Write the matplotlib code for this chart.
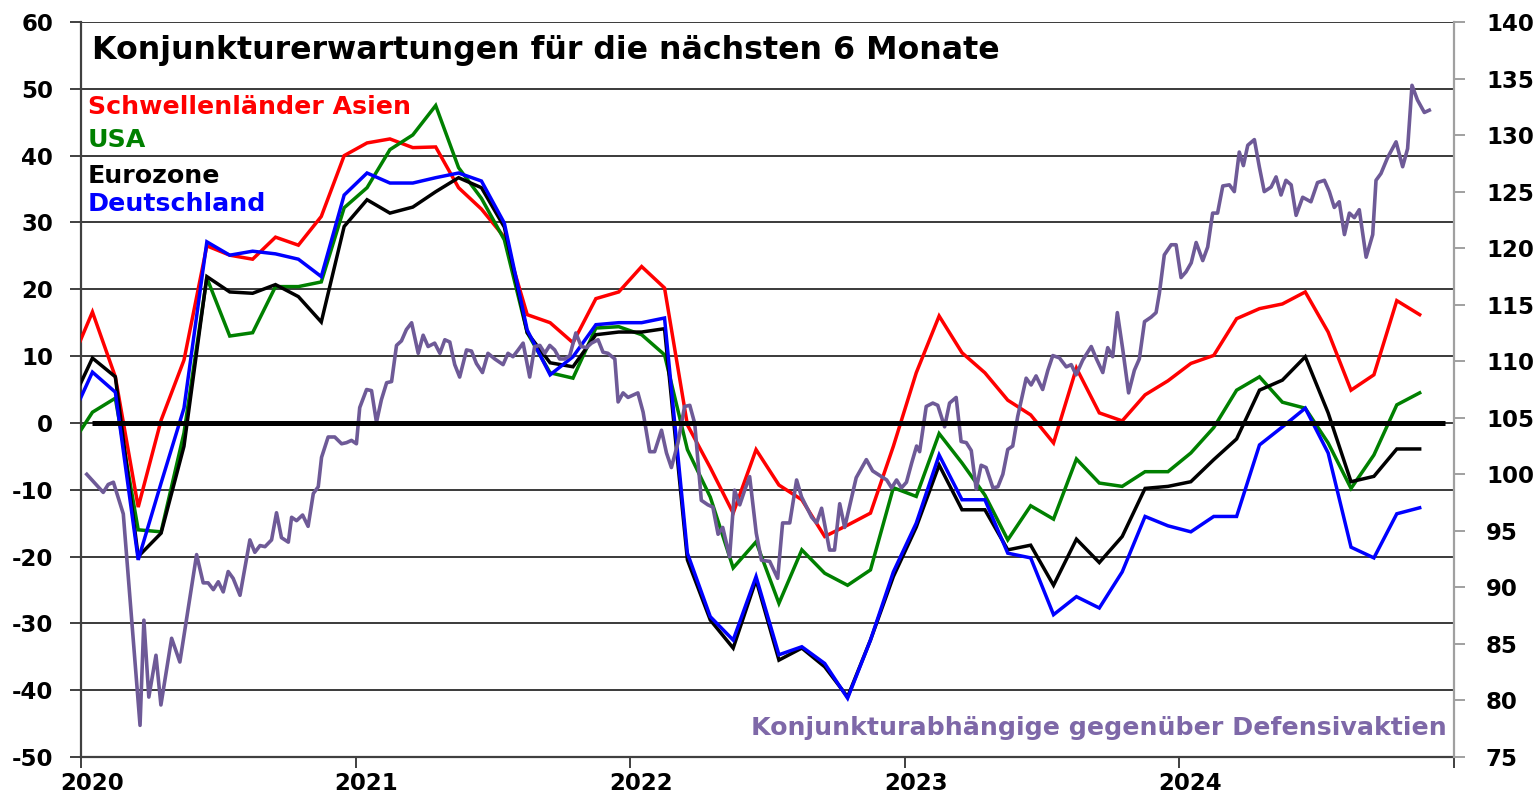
import numpy as np
import matplotlib
matplotlib.use("Agg")
import matplotlib.pyplot as plt

plt.rcParams['font.family'] = ['DejaVu Sans']
plt.rcParams['font.weight'] = 'bold'
plt.rcParams['axes.unicode_minus'] = False

# ---------------- data ----------------
# monthly observations, Dec 2019 .. Nov 2024 (plotted at mid-month)
month_years = [2019] + [2020] * 12 + [2021] * 12 + [2022] * 12 + [2023] * 12 + [2024] * 11
month_nums = [12] + list(range(1, 13)) * 4 + list(range(1, 12))

asien = [8.5,
         16.6, 6.9, -12.6, 0.4, 9.4, 26.5, 25.1, 24.5, 27.8, 26.6, 30.9, 40.0,
         41.9, 42.5, 41.2, 41.3, 35.2, 32.0, 27.8, 16.2, 15.0, 12.0, 18.6, 19.6,
         23.4, 20.2, -0.3, -6.7, -13.5, -4.0, -9.3, -11.5, -17.0, -15.3, -13.5, -3.5,
         7.5, 16.0, 10.5, 7.5, 3.4, 1.2, -3.0, 8.2, 1.5, 0.3, 4.2, 6.3,
         8.9, 10.1, 15.6, 17.1, 17.8, 19.6, 13.6, 4.9, 7.2, 18.3, 16.2]
usa = [-3.7,
       1.6, 3.7, -16.0, -16.3, -1.5, 21.7, 13.0, 13.5, 20.4, 20.4, 21.1, 32.2,
       35.2, 40.9, 43.1, 47.5, 38.2, 33.6, 27.4, 13.5, 7.5, 6.7, 14.2, 14.4,
       13.2, 10.2, -4.0, -11.1, -21.7, -17.8, -27.0, -19.0, -22.5, -24.3, -22.0, -9.7,
       -11.0, -1.6, -6.0, -10.8, -17.5, -12.4, -14.4, -5.4, -9.0, -9.5, -7.3, -7.3,
       -4.5, -0.7, 4.9, 6.9, 3.1, 2.2, -3.0, -9.8, -4.8, 2.7, 4.5]
eurozone = [2.4,
            9.7, 6.9, -20.0, -16.5, -3.5, 21.9, 19.6, 19.4, 20.7, 18.9, 15.1, 29.4,
            33.4, 31.4, 32.3, 34.6, 36.7, 35.2, 29.3, 13.5, 9.0, 8.4, 13.2, 13.6,
            13.6, 14.1, -20.5, -29.5, -33.7, -23.5, -35.5, -33.7, -36.5, -41.0, -32.5, -23.0,
            -15.6, -6.3, -13.0, -13.0, -19.0, -18.3, -24.3, -17.4, -20.9, -17.0, -9.8, -9.5,
            -8.8, -5.5, -2.4, 4.9, 6.4, 9.9, 1.5, -8.8, -8.0, -3.9, -3.9]
deutschland = [0.1,
               7.6, 4.6, -20.5, -9.0, 2.2, 27.1, 25.1, 25.7, 25.3, 24.5, 21.9, 34.1,
               37.4, 35.9, 35.9, 36.7, 37.4, 36.2, 29.9, 13.9, 7.2, 9.9, 14.7, 15.0,
               15.0, 15.7, -19.5, -29.0, -32.5, -23.0, -34.7, -33.5, -36.0, -41.2, -32.5, -22.3,
               -15.0, -4.8, -11.5, -11.5, -19.5, -20.2, -28.7, -26.0, -27.7, -22.3, -14.0, -15.4,
               -16.3, -14.0, -14.0, -3.3, -0.6, 2.2, -4.5, -18.6, -20.2, -13.6, -12.7]

# cyclicals vs defensives index (right axis), read at dates in decimal years
rel_t = [2020.021, 2020.081, 2020.099, 2020.118, 2020.154, 2020.215, 2020.229, 2020.247,
         2020.273, 2020.291, 2020.330, 2020.360, 2020.421, 2020.445, 2020.463, 2020.482,
         2020.500, 2020.518, 2020.536, 2020.554, 2020.579, 2020.615, 2020.633, 2020.652,
         2020.670, 2020.694, 2020.712, 2020.730, 2020.755, 2020.767, 2020.785, 2020.807,
         2020.827, 2020.846, 2020.864, 2020.876, 2020.900, 2020.924, 2020.949, 2020.967,
         2020.985, 2021.003, 2021.015, 2021.040, 2021.058, 2021.076, 2021.094, 2021.113,
         2021.131, 2021.149, 2021.167, 2021.185, 2021.204, 2021.228, 2021.246, 2021.264,
         2021.288, 2021.307, 2021.325, 2021.343, 2021.361, 2021.379, 2021.404, 2021.422,
         2021.440, 2021.462, 2021.482, 2021.507, 2021.537, 2021.555, 2021.573, 2021.592,
         2021.610, 2021.634, 2021.652, 2021.671, 2021.689, 2021.707, 2021.725, 2021.743,
         2021.762, 2021.780, 2021.802, 2021.822, 2021.841, 2021.859, 2021.883, 2021.901,
         2021.919, 2021.944, 2021.956, 2021.974, 2021.992, 2022.010, 2022.028, 2022.047,
         2022.071, 2022.089, 2022.114, 2022.132, 2022.150, 2022.174, 2022.198, 2022.217,
         2022.235, 2022.259, 2022.283, 2022.301, 2022.320, 2022.337, 2022.362, 2022.380,
         2022.399, 2022.417, 2022.435, 2022.459, 2022.478, 2022.508, 2022.537, 2022.555,
         2022.581, 2022.606, 2022.624, 2022.661, 2022.679, 2022.697, 2022.726, 2022.744,
         2022.763, 2022.781, 2022.823, 2022.860, 2022.883, 2022.915, 2022.934, 2022.952,
         2022.970, 2022.988, 2023.006, 2023.025, 2023.043, 2023.054, 2023.078, 2023.102,
         2023.120, 2023.145, 2023.163, 2023.187, 2023.205, 2023.224, 2023.242, 2023.260,
         2023.278, 2023.296, 2023.321, 2023.339, 2023.357, 2023.375, 2023.393, 2023.411,
         2023.442, 2023.460, 2023.478, 2023.502, 2023.521, 2023.539, 2023.563, 2023.588,
         2023.606, 2023.624, 2023.648, 2023.679, 2023.698, 2023.721, 2023.739, 2023.757,
         2023.774, 2023.794, 2023.815, 2023.836, 2023.854, 2023.873, 2023.897, 2023.915,
         2023.927, 2023.945, 2023.970, 2023.988, 2024.006, 2024.024, 2024.043, 2024.061,
         2024.085, 2024.103, 2024.121, 2024.139, 2024.158, 2024.182, 2024.200, 2024.218,
         2024.233, 2024.249, 2024.273, 2024.291, 2024.309, 2024.334, 2024.352, 2024.370,
         2024.388, 2024.407, 2024.425, 2024.449, 2024.479, 2024.503, 2024.528, 2024.546,
         2024.564, 2024.582, 2024.601, 2024.619, 2024.637, 2024.655, 2024.680, 2024.704,
         2024.716, 2024.734, 2024.758, 2024.789, 2024.813, 2024.831, 2024.847, 2024.867,
         2024.892, 2024.910]
rel_v = [100.0, 98.4, 99.1, 99.3, 96.5, 77.8, 87.1, 80.3,
         84.0, 79.6, 85.5, 83.4, 92.9, 90.4, 90.4, 89.8,
         90.5, 89.6, 91.4, 90.8, 89.3, 94.2, 93.1, 93.7,
         93.6, 94.2, 96.6, 94.4, 94.0, 96.2, 95.9, 96.4,
         95.4, 98.3, 98.9, 101.5, 103.3, 103.3, 102.7, 102.8,
         103.0, 102.7, 105.9, 107.5, 107.4, 104.6, 106.6, 108.1,
         108.2, 111.4, 111.8, 112.8, 113.4, 110.7, 112.3, 111.3,
         111.6, 110.7, 111.9, 111.7, 109.7, 108.6, 111.0, 110.9,
         109.8, 109.0, 110.7, 110.2, 109.7, 110.7, 110.4, 111.0,
         111.6, 108.6, 111.3, 111.4, 110.7, 111.4, 111.0, 110.2,
         110.2, 110.5, 112.5, 111.3, 111.2, 111.6, 111.9, 110.8,
         110.7, 110.2, 106.4, 107.2, 106.8, 107.0, 107.2, 105.5,
         102.0, 102.0, 103.9, 101.9, 100.6, 102.8, 106.0, 106.1,
         104.5, 97.7, 97.3, 97.1, 94.7, 95.3, 92.7, 98.6,
         97.3, 98.6, 99.8, 94.8, 92.4, 92.3, 90.8, 95.7,
         95.7, 99.5, 98.0, 96.2, 95.7, 97.0, 93.3, 93.3,
         97.4, 95.3, 99.7, 101.3, 100.3, 99.8, 99.5, 98.8,
         99.5, 98.8, 99.3, 101.0, 102.5, 102.0, 106.0, 106.3,
         106.1, 104.2, 106.3, 106.8, 102.9, 102.8, 102.1, 98.7,
         100.8, 100.6, 98.8, 98.9, 100.0, 102.2, 102.5, 105.1,
         108.5, 107.9, 108.7, 107.5, 109.2, 110.5, 110.3, 109.5,
         109.7, 108.8, 110.1, 111.3, 110.2, 109.0, 111.2, 110.4,
         114.3, 111.0, 107.2, 109.2, 110.2, 113.5, 113.9, 114.3,
         116.0, 119.4, 120.3, 120.3, 117.4, 117.9, 118.7, 120.5,
         118.9, 120.1, 123.1, 123.1, 125.5, 125.6, 125.0, 128.5,
         127.3, 129.1, 129.6, 127.2, 125.0, 125.4, 126.3, 124.7,
         126.0, 125.6, 122.9, 124.5, 124.1, 125.8, 126.0, 125.0,
         123.6, 124.1, 121.2, 123.1, 122.7, 123.4, 119.2, 121.2,
         126.0, 126.6, 128.0, 129.4, 127.2, 128.8, 134.4, 133.1,
         132.0, 132.2]

left_ticks = list(range(-50, 61, 10))
right_ticks = list(range(75, 141, 5))
year_ticks = [2020, 2021, 2022, 2023, 2024]

# ---------------- plot ----------------
t_month = np.array(month_years) + (np.array(month_nums) - 0.5) / 12.0

fig = plt.figure(figsize=(15.36, 8.02), dpi=100)
ax = fig.add_axes([81 / 1536, 1 - 757 / 802, (1454 - 81) / 1536, (757 - 22) / 802])
ax2 = ax.twinx()

lw = 2.5
ax.plot(t_month, asien, color='#FF0000', lw=lw, solid_joinstyle='miter', zorder=3)
ax.plot(t_month, usa, color='#008000', lw=lw, solid_joinstyle='miter', zorder=3)
ax.plot(t_month, eurozone, color='#000000', lw=lw, solid_joinstyle='miter', zorder=3)
ax.plot(t_month, deutschland, color='#0000FF', lw=lw, solid_joinstyle='miter', zorder=3)

ax2.plot(rel_t, rel_v, color='#6E5A97', lw=2.6, zorder=2)
# zero reference line (left-axis units), drawn on top
ax2.plot([t_month[1], t_month[-1] + 1 / 12 + 0.01], [0, 0], color='black', lw=3.6,
         transform=ax.transData, zorder=5, solid_capstyle='butt')

ax.set_xlim(2020, 2025)
ax.set_ylim(-50, 60)
ax2.set_ylim(75, 140)

ax.set_yticks(left_ticks)
ax.set_yticklabels([str(v) for v in left_ticks])
ax2.set_yticks(right_ticks)
ax2.set_yticklabels([str(v) for v in right_ticks])

ax.set_xticks(year_ticks + [2025])
ax.set_xticklabels([])
ax.set_xticks([y + 0.04 for y in year_ticks], minor=True)
ax.set_xticklabels([str(y) for y in year_ticks], minor=True)

ax.yaxis.grid(True, color='#3A3A3A', lw=1.4)
ax.set_axisbelow(True)

for s in ['top', 'right']:
    ax.spines[s].set_visible(False)
for s in ['left', 'bottom']:
    ax.spines[s].set_color('#404040')
    ax.spines[s].set_linewidth(1.6)
for s in ['top', 'left', 'bottom']:
    ax2.spines[s].set_visible(False)
ax2.spines['right'].set_color('#A0A0A0')
ax2.spines['right'].set_linewidth(1.6)

ax.tick_params(axis='y', direction='out', length=8, width=1.4, color='#404040',
               pad=12, labelsize=16.5)
ax2.tick_params(axis='y', direction='out', length=8, width=1.4, color='#A0A0A0',
                pad=15, labelsize=16.5)
ax.tick_params(axis='x', which='major', direction='out', length=8, width=1.4,
               color='#404040')
ax.tick_params(axis='x', which='minor', length=0, pad=11, labelsize=16.5)

for lab in ax.get_yticklabels() + ax2.get_yticklabels() + ax.get_xticklabels(minor=True):
    lab.set_fontweight('bold')

fig.text(92 / 1536, 1 - 51 / 802, 'Konjunkturerwartungen für die nächsten 6 Monate',
         fontsize=22.8, fontweight='bold', va='center', ha='left')

legend_items = [('Schwellenländer Asien', '#FF0000', 107),
                ('USA', '#008000', 140),
                ('Eurozone', '#000000', 176),
                ('Deutschland', '#0000FF', 204)]
for txt, col, ypix in legend_items:
    fig.text(88 / 1536, 1 - ypix / 802, txt, color=col, fontsize=18.2,
             fontweight='bold', va='center', ha='left')

fig.text(1447 / 1536, 1 - 728 / 802, 'Konjunkturabhängige gegenüber Defensivaktien',
         color='#7E68A8', fontsize=18.2, fontweight='bold', va='center', ha='right')

fig.savefig('out.png', dpi=100)
